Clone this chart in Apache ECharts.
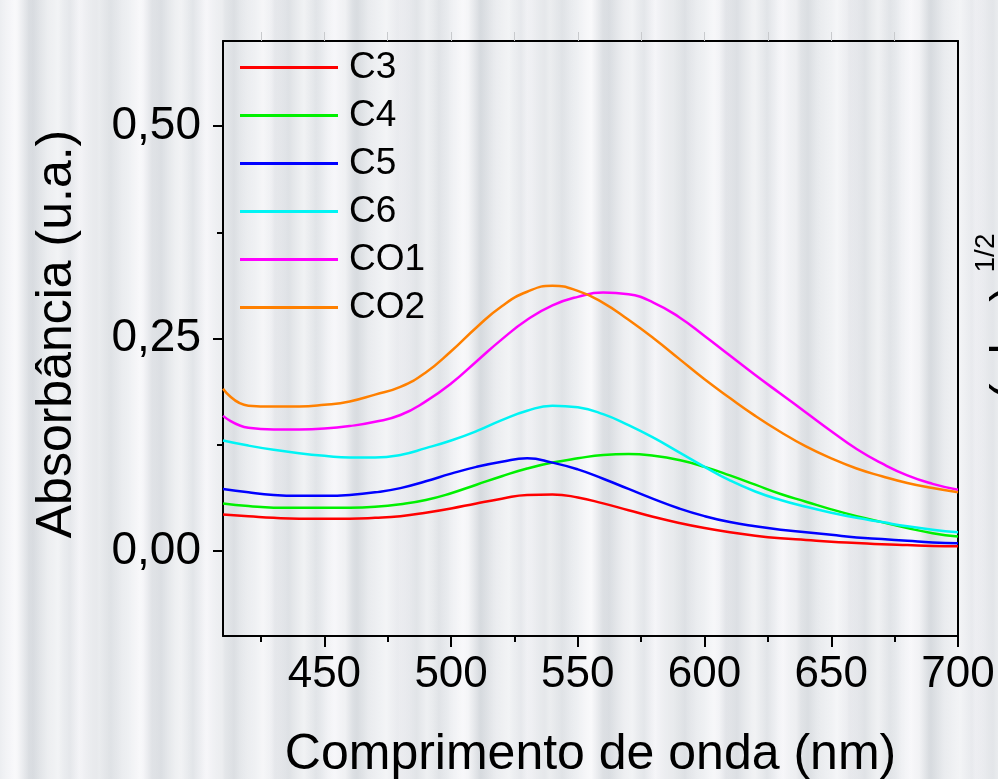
<!DOCTYPE html>
<html>
<head>
<meta charset="utf-8">
<script src="https://cdn.jsdelivr.net/npm/echarts@6/dist/echarts.min.js"></script>
<style>
  html, body { margin: 0; padding: 0; }
  body {
    width: 998px; height: 779px; overflow: hidden;
    background:
      repeating-linear-gradient(90deg, rgba(255,255,255,0) 0px, rgba(255,255,255,0.35) 17px, rgba(190,196,202,0.22) 29px, rgba(255,255,255,0) 41px),
      repeating-linear-gradient(90deg, #eceef1 0px, #f6f6f9 15px, #dde0e4 33px, #e9ebee 48px, #eceef1 64px);
  }
  #chart { width: 998px; height: 779px; }
</style>
</head>
<body>
<div id="chart"></div>
<script>
// wavelength (nm)
var wl = [410, 420, 430, 440, 450, 460, 470, 480, 490, 500, 510, 520, 530, 540, 550,
          560, 570, 580, 590, 600, 610, 620, 630, 640, 650, 660, 670, 680, 690, 700];

var c3  = [0.043, 0.041, 0.039, 0.038, 0.038, 0.038, 0.039, 0.041, 0.045, 0.050, 0.056, 0.0615, 0.066, 0.0665, 0.063,
           0.056, 0.048, 0.040, 0.033, 0.027, 0.022, 0.018, 0.015, 0.013, 0.011, 0.0095, 0.008, 0.007, 0.006, 0.0055];
var c4  = [0.056, 0.053, 0.051, 0.051, 0.051, 0.051, 0.052, 0.055, 0.060, 0.068, 0.078, 0.088, 0.097, 0.104, 0.109,
           0.113, 0.114, 0.112, 0.107, 0.099, 0.089, 0.078, 0.067, 0.058, 0.049, 0.041, 0.034, 0.027, 0.021, 0.017];
var c5  = [0.073, 0.069, 0.066, 0.065, 0.065, 0.066, 0.069, 0.074, 0.082, 0.091, 0.099, 0.105, 0.109, 0.104, 0.096,
           0.085, 0.073, 0.061, 0.050, 0.041, 0.034, 0.029, 0.025, 0.022, 0.019, 0.016, 0.014, 0.012, 0.010, 0.009];
var c6  = [0.130, 0.124, 0.119, 0.115, 0.112, 0.110, 0.110, 0.113, 0.121, 0.130, 0.141, 0.154, 0.165, 0.171, 0.169,
           0.161, 0.148, 0.133, 0.116, 0.099, 0.083, 0.070, 0.060, 0.052, 0.045, 0.039, 0.034, 0.029, 0.025, 0.022];
var co1 = [0.159, 0.145, 0.143, 0.143, 0.144, 0.147, 0.152, 0.160, 0.176, 0.197, 0.223, 0.249, 0.272, 0.289, 0.299,
           0.304, 0.302, 0.292, 0.275, 0.253, 0.230, 0.207, 0.185, 0.163, 0.141, 0.120, 0.103, 0.089, 0.079, 0.072];
var co2 = [0.191, 0.171, 0.170, 0.170, 0.172, 0.176, 0.184, 0.193, 0.210, 0.235, 0.263, 0.288, 0.305, 0.312, 0.306,
           0.292, 0.272, 0.250, 0.226, 0.202, 0.180, 0.159, 0.140, 0.123, 0.109, 0.097, 0.088, 0.080, 0.074, 0.069];

var names  = ['C3', 'C4', 'C5', 'C6', 'CO1', 'CO2'];
var values = [c3, c4, c5, c6, co1, co2];
var colors = ['#ff0000', '#00f000', '#0000ff', '#00f4f4', '#ff00ff', '#ff8000'];

var xMajor = [450, 500, 550, 600, 650, 700];
var xMinor = [425, 475, 525, 575, 625, 675];
var yMajor = [0, 0.25, 0.5];
var yMinor = [0.125, 0.375];

var chart = echarts.init(document.getElementById('chart'), null, { renderer: 'canvas' });

var font = "'Liberation Sans', Arial, sans-serif";
var black = { color: '#000', width: 2 };

var option = {
  backgroundColor: 'transparent',
  animation: false,
  color: colors,
  grid: { left: 223, right: 40, top: 41, bottom: 143, outerBoundsMode: 'none' },
  legend: {
    orient: 'vertical',
    left: 240,
    top: 49,
    padding: 0,
    icon: 'rect',
    itemWidth: 98,
    itemHeight: 3,
    itemGap: 11,
    data: names,
    textStyle: { fontSize: 37, lineHeight: 36, color: '#000', fontFamily: font, padding: [0, 0, 0, 6] }
  },
  xAxis: [
    {
      type: 'value', position: 'bottom', min: 410, max: 700,
      axisLine: { onZero: false, lineStyle: black },
      axisTick: { customValues: xMajor, length: 11, lineStyle: black },
      axisLabel: { customValues: xMajor, fontSize: 44, margin: 17, color: '#000', fontFamily: font },
      splitLine: { show: false },
      name: 'Comprimento de onda (nm)',
      nameLocation: 'middle',
      nameGap: 94,
      nameTextStyle: { fontSize: 50, color: '#000', fontFamily: font }
    },
    {
      type: 'value', position: 'bottom', min: 410, max: 700,
      axisLine: { show: false, onZero: false },
      axisTick: { customValues: xMinor, length: 6, lineStyle: black },
      axisLabel: { show: false },
      splitLine: { show: false }
    },
    {
      type: 'value', position: 'top', min: 410, max: 700,
      axisLine: { onZero: false, lineStyle: black },
      axisTick: { customValues: [425, 450, 475, 500, 525, 550, 575, 600, 625, 650, 675], length: 9, lineStyle: { color: '#c8cacd', width: 1 } },
      axisLabel: { show: false },
      splitLine: { show: false }
    }
  ],
  yAxis: [
    {
      type: 'value', position: 'left', min: -0.1, max: 0.6,
      axisLine: { onZero: false, lineStyle: black },
      axisTick: { customValues: yMajor, length: 10, lineStyle: black },
      axisLabel: {
        customValues: yMajor, fontSize: 46, margin: 22, color: '#000', fontFamily: font,
        formatter: function (v) { return v.toFixed(2).replace('.', ','); }
      },
      splitLine: { show: false }
    },
    {
      type: 'value', position: 'left', min: -0.1, max: 0.6,
      axisLine: { show: false, onZero: false },
      axisTick: { customValues: yMinor, length: 6, lineStyle: black },
      axisLabel: { show: false },
      splitLine: { show: false }
    },
    {
      type: 'value', position: 'right', min: -0.1, max: 0.6,
      axisLine: { onZero: false, lineStyle: black },
      axisTick: { show: false },
      axisLabel: { show: false },
      splitLine: { show: false }
    }
  ],
  graphic: [
    {
      type: 'text',
      x: 57, y: 334,
      rotation: Math.PI / 2,
      style: {
        text: 'Absorbância (u.a.)',
        font: '50px ' + font,
        fill: '#000',
        align: 'center',
        verticalAlign: 'middle'
      }
    },
    {
      type: 'text',
      x: 1011, y: 400,
      rotation: Math.PI / 2,
      style: { text: '(αhν)', font: '50px ' + font, fill: '#000', align: 'left', verticalAlign: 'middle' }
    },
    {
      type: 'text',
      x: 986, y: 253,
      rotation: Math.PI / 2,
      style: { text: '1/2', font: '28px ' + font, fill: '#000', align: 'center', verticalAlign: 'middle' }
    }
  ],
  series: names.map(function (n, k) {
    return {
      name: n,
      type: 'line',
      xAxisIndex: 0,
      yAxisIndex: 0,
      smooth: 0.5,
      symbol: 'none',
      lineStyle: { width: 2.5, color: colors[k] },
      itemStyle: { color: colors[k] },
      data: wl.map(function (w, i) { return [w, values[k][i]]; })
    };
  })
};

chart.setOption(option);
</script>
</body>
</html>
